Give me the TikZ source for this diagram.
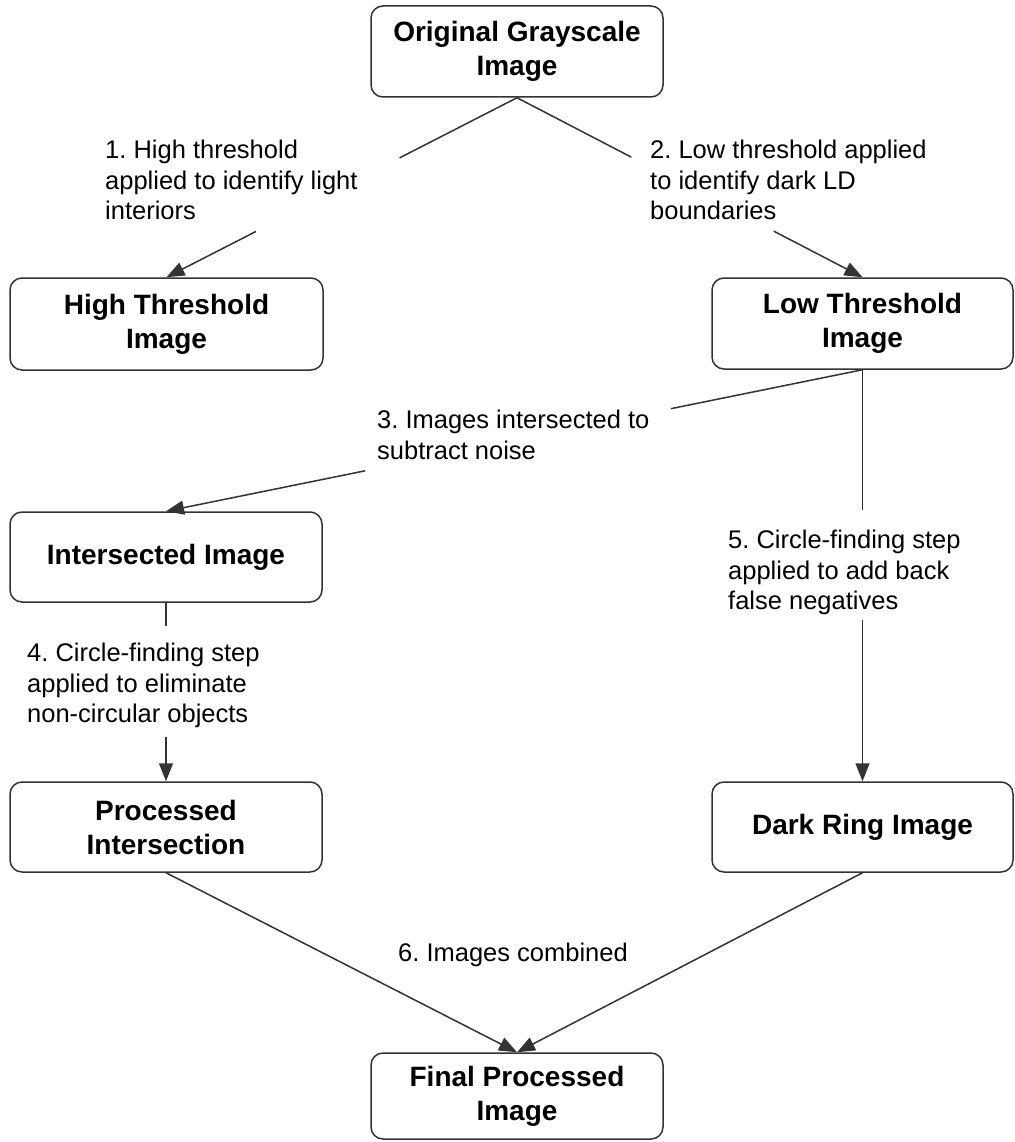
\documentclass[tikz,border=0pt]{standalone}
\usepackage{fontspec}
\setmainfont{Liberation Sans}
\usetikzlibrary{arrows.meta,calc}
\frenchspacing
\begin{document}
\begin{tikzpicture}[x=1pt,y=-1pt,
  box/.style={draw=black!80, line width=1.5pt, rounded corners=12pt, align=center,
    font=\fontsize{28}{34}\selectfont\bfseries, inner sep=0pt},
  lab/.style={align=left, font=\fontsize{25.5}{30.5}\selectfont\frenchspacing, inner sep=0pt, anchor=north west},
  conn/.style={draw=black!80, line width=1.5pt},
  arr/.style={conn, -{Triangle[length=18pt,width=14pt]}}]
\useasboundingbox[fill=white] (0,0) rectangle (1014,1142);

\node[box, minimum width=292pt, minimum height=91pt] (o) at (517,51.5) {Original Grayscale\\Image};
\node[box, minimum width=313pt, minimum height=92pt] (h) at (166.5,324) {High Threshold\\Image};
\node[box, minimum width=301pt, minimum height=91pt] (l) at (862.5,323.5) {Low Threshold\\Image};
\node[box, minimum width=312pt, minimum height=90pt] (i) at (166,557) {Intersected Image};
\node[box, minimum width=312pt, minimum height=90pt] (p) at (166,827) {Processed\\Intersection};
\node[box, minimum width=301pt, minimum height=90pt] (d) at (862.5,827) {Dark Ring Image};
\node[box, minimum width=292pt, minimum height=86pt] (f) at (517,1096) {Final Processed\\Image};

\node[lab] (l1) at (105,140) {1. High threshold\\applied to identify light\\interiors};
\node[lab] (l2) at (650,140) {2. Low threshold applied\\to identify dark LD\\boundaries};
\node[lab] (l3) at (377,410) {3. Images intersected to\\subtract noise};
\node[lab] (l4) at (27,643) {4. Circle-finding step\\applied to eliminate\\non-circular objects};
\node[lab] (l5) at (728,530) {5. Circle-finding step\\applied to add back\\false negatives};
\node[lab] (l6) at (398,943) {6. Images combined};

\draw[conn] (o.south) -- ($(o.south)!0.335!(h.north)$);
\draw[arr] ($(o.south)!0.745!(h.north)$) -- (h.north);
\draw[conn] (o.south) -- ($(o.south)!0.331!(l.north)$);
\draw[arr] ($(o.south)!0.743!(l.north)$) -- (l.north);
\draw[conn] (l.south) -- ($(l.south)!0.275!(i.north)$);
\draw[arr] ($(l.south)!0.714!(i.north)$) -- (i.north);
\draw[conn] (i.south) -- ($(i.south)!0.128!(p.north)$);
\draw[arr] ($(i.south)!0.75!(p.north)$) -- (p.north);
\draw[conn] (l.south) -- ($(l.south)!0.341!(d.north)$);
\draw[arr] ($(l.south)!0.608!(d.north)$) -- (d.north);
\draw[arr] (p.south) -- (f.north);
\draw[arr] (d.south) -- (f.north);
\end{tikzpicture}
\end{document}
